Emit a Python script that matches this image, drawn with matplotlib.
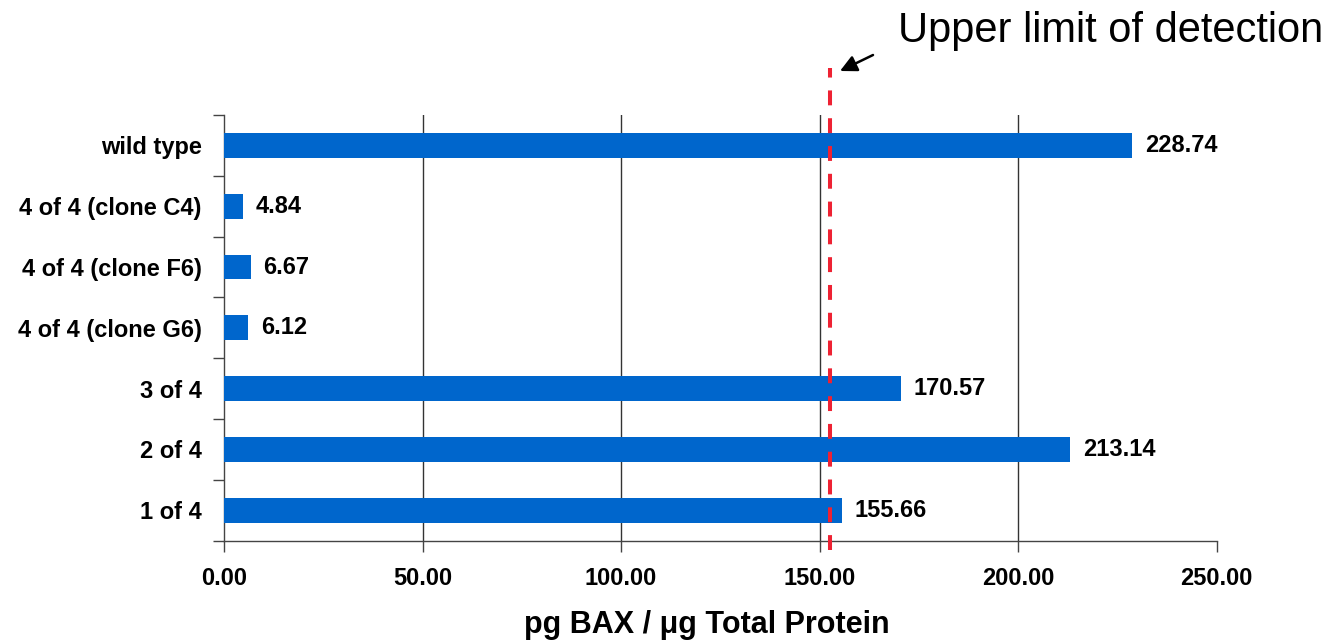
import matplotlib
matplotlib.use("Agg")
import matplotlib.pyplot as plt
from matplotlib.lines import Line2D

# Data
categories = ["1 of 4", "2 of 4", "3 of 4", "4 of 4 (clone G6)",
              "4 of 4 (clone F6)", "4 of 4 (clone C4)", "wild type"]
values = [155.66, 213.14, 170.57, 6.12, 6.67, 4.84, 228.74]
x_ticks = [0, 50, 100, 150, 200, 250]
detection_limit = 152.5

plt.rcParams["font.family"] = ["Liberation Sans", "DejaVu Sans"]

fig = plt.figure(figsize=(13.32, 6.42), dpi=100)
ax = fig.add_axes([0.1682, 0.1578, 0.7452, 0.6631])

bar_color = "#0066CC"
pos = list(range(len(categories)))
ax.barh(pos, values, height=0.41, color=bar_color, zorder=3)

label_size = 17
for p, v in zip(pos, values):
    ax.annotate(f"{v:.2f}", xy=(v, p), xytext=(9, 0), textcoords="offset points",
                va="center", ha="left", fontsize=label_size, fontweight="bold",
                color="black")

ax.set_xlim(0, 250)
ax.set_ylim(-0.5, len(categories) - 0.5)
ax.set_xticks(x_ticks)
ax.set_xticklabels([f"{t:.2f}" for t in x_ticks], fontsize=label_size, fontweight="bold")
ax.set_yticks([p - 0.5 for p in pos] + [len(categories) - 0.5])
ax.set_yticklabels([])
ax.set_yticks(pos, minor=True)
ax.set_yticklabels(categories, minor=True, fontsize=label_size, fontweight="bold")
ax.tick_params(axis="y", which="minor", length=0, pad=16)
ax.tick_params(axis="y", which="major", length=8, width=1, color="#444444", direction="out")
ax.tick_params(axis="x", length=8, width=1, color="#444444", direction="out", pad=11)

for g in x_ticks[1:-1]:
    ax.axvline(g, color="#333333", lw=1, zorder=1)

for s in ["top", "right"]:
    ax.spines[s].set_visible(False)
for s in ["left", "bottom"]:
    ax.spines[s].set_color("#444444")
    ax.spines[s].set_linewidth(1)

fig.text(707 / 1332, 1 - 633 / 642, "pg BAX / μg Total Protein", fontsize=22,
         fontweight="bold", ha="center", va="baseline")

# Detection limit marker extending past the plot area
limit_line = Line2D([detection_limit, detection_limit], [-0.022, 1.11],
                    transform=ax.get_xaxis_transform(), color="#EE2233",
                    lw=2.9, dashes=(3.7, 3.2), clip_on=False, zorder=5)
ax.add_line(limit_line)

fig.text(0.6741, 0.952, "Upper limit of detection", fontsize=30,
         ha="left", va="center", color="black")
ax.annotate("", xy=(840 / 1332, 1 - 71 / 642), xycoords="figure fraction",
            xytext=(873 / 1332, 1 - 55 / 642), textcoords="figure fraction",
            arrowprops=dict(arrowstyle="-|>", color="black", lw=1.8,
                            mutation_scale=25, shrinkA=0, shrinkB=0))

fig.savefig("out.png", dpi=100)
